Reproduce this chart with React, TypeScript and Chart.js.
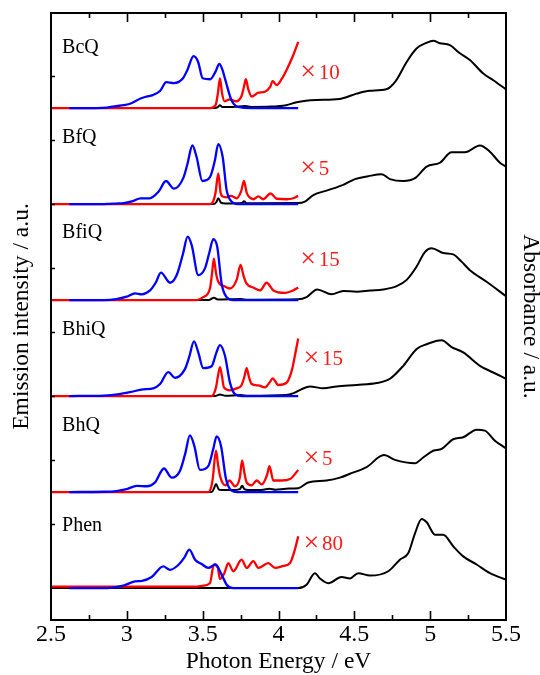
import React, { useEffect, useRef } from 'react';
import { Chart, registerables } from 'chart.js';

Chart.register(...registerables);

type P = [number, number][];

// ---- panel meta ----
const panelNames = ['BcQ', 'BfQ', 'BfiQ', 'BhiQ', 'BhQ', 'Phen'];
const panelFactors = ['10', '5', '15', '15', '5', '80'];
const panelOffsets = [5.333, 4.333, 3.333, 2.333, 1.333, 0.333];
const xTickLabels = ['2.5', '3', '3.5', '4', '4.5', '5', '5.5'];

// ---- BcQ ----
const BcQ_em: P = [[2.62,0],[2.80,0],[2.87,0.005],[2.93,0.02],[2.98,0.03],[3.03,0.05],[3.09,0.10],[3.13,0.12],[3.17,0.135],[3.22,0.18],[3.26,0.27],[3.31,0.26],[3.37,0.31],[3.40,0.40],[3.44,0.54],[3.47,0.48],[3.50,0.31],[3.55,0.30],[3.585,0.38],[3.61,0.46],[3.63,0.40],[3.65,0.29],[3.69,0.08],[3.72,0.02],[3.76,0.005],[3.85,0],[4.13,0]];
const BcQ_absX: P = [[2.5,0],[3.55,0],[3.585,0.03],[3.60,0.15],[3.614,0.31],[3.628,0.15],[3.645,0.07],[3.68,0.09],[3.72,0.07],[3.755,0.12],[3.772,0.22],[3.785,0.30],[3.80,0.20],[3.823,0.12],[3.867,0.16],[3.91,0.17],[3.945,0.22],[3.961,0.28],[3.988,0.24],[4.02,0.30],[4.054,0.40],[4.097,0.55],[4.13,0.69]];
const BcQ_abs: P = [[2.5,0],[3.58,0],[3.60,0.01],[3.614,0.03],[3.63,0.01],[3.70,0.01],[3.78,0.02],[3.82,0.012],[3.95,0.015],[4.05,0.03],[4.12,0.06],[4.18,0.075],[4.25,0.083],[4.40,0.094],[4.515,0.15],[4.60,0.18],[4.71,0.195],[4.77,0.275],[4.845,0.48],[4.91,0.62],[4.977,0.68],[5.02,0.70],[5.064,0.675],[5.13,0.655],[5.196,0.57],[5.262,0.50],[5.35,0.36],[5.416,0.29],[5.5,0.195]];

// ---- BfQ ----
const BfQ_em: P = [[2.62,0],[2.85,0],[2.93,0.005],[2.98,0.01],[3.04,0.03],[3.09,0.06],[3.15,0.06],[3.21,0.13],[3.258,0.24],[3.311,0.16],[3.372,0.27],[3.40,0.42],[3.432,0.61],[3.46,0.49],[3.498,0.24],[3.548,0.28],[3.58,0.45],[3.603,0.625],[3.632,0.49],[3.658,0.145],[3.691,0.025],[3.73,0],[4.13,0]];
const BfQ_absX: P = [[2.5,0],[3.548,0],[3.57,0.03],[3.585,0.12],[3.603,0.32],[3.618,0.12],[3.63,0.08],[3.658,0.07],[3.686,0.085],[3.724,0.06],[3.755,0.14],[3.772,0.24],[3.79,0.12],[3.801,0.085],[3.834,0.05],[3.867,0.08],[3.90,0.05],[3.948,0.11],[3.988,0.055],[4.054,0.05],[4.097,0.06],[4.13,0.085]];
const BfQ_abs: P = [[2.5,0],[3.57,0],[3.59,0.02],[3.603,0.06],[3.62,0.015],[3.65,0.005],[3.76,0.01],[3.772,0.03],[3.79,0.008],[4.13,0.01],[4.174,0.025],[4.23,0.094],[4.317,0.14],[4.427,0.20],[4.504,0.26],[4.592,0.29],[4.68,0.31],[4.735,0.26],[4.823,0.24],[4.90,0.27],[4.977,0.39],[5.064,0.43],[5.141,0.54],[5.229,0.54],[5.328,0.61],[5.394,0.545],[5.46,0.43],[5.5,0.39]];

// ---- BfiQ ----
const BfiQ_em: P = [[2.62,0],[2.85,0],[2.93,0.01],[2.999,0.035],[3.054,0.07],[3.098,0.06],[3.153,0.10],[3.19,0.18],[3.225,0.285],[3.285,0.18],[3.329,0.26],[3.37,0.48],[3.401,0.66],[3.428,0.57],[3.471,0.26],[3.515,0.33],[3.545,0.50],[3.57,0.635],[3.596,0.555],[3.625,0.17],[3.658,0.03],[3.70,0],[4.13,0]];
const BfiQ_absX: P = [[2.5,0],[3.46,0],[3.504,0.03],[3.548,0.12],[3.562,0.28],[3.574,0.43],[3.588,0.28],[3.603,0.19],[3.647,0.14],[3.68,0.12],[3.724,0.21],[3.75,0.365],[3.77,0.25],[3.79,0.17],[3.834,0.13],[3.878,0.10],[3.922,0.18],[3.966,0.10],[4.043,0.075],[4.097,0.10],[4.13,0.13]];
const BfiQ_abs: P = [[2.5,0],[3.54,0],[3.574,0.025],[3.60,0.005],[3.75,0.01],[3.80,0.003],[4.13,0.007],[4.185,0.03],[4.255,0.11],[4.35,0.06],[4.427,0.094],[4.515,0.087],[4.603,0.10],[4.69,0.11],[4.779,0.145],[4.845,0.21],[4.911,0.35],[4.965,0.50],[5.01,0.54],[5.086,0.49],[5.152,0.475],[5.207,0.40],[5.262,0.31],[5.372,0.19],[5.5,0.04]];

// ---- BhiQ ----
const BhiQ_em: P = [[2.62,0],[2.85,0.005],[2.95,0.02],[3.02,0.04],[3.108,0.07],[3.174,0.08],[3.219,0.125],[3.273,0.25],[3.317,0.19],[3.383,0.28],[3.41,0.40],[3.443,0.57],[3.471,0.455],[3.504,0.29],[3.559,0.31],[3.59,0.45],[3.614,0.53],[3.647,0.42],[3.68,0.14],[3.713,0.02],[3.76,0],[4.13,0]];
const BhiQ_absX: P = [[2.5,0],[3.559,0],[3.588,0.09],[3.60,0.2],[3.614,0.30],[3.628,0.2],[3.64,0.09],[3.68,0.06],[3.724,0.08],[3.755,0.11],[3.775,0.2],[3.79,0.29],[3.805,0.2],[3.823,0.125],[3.867,0.11],[3.911,0.09],[3.945,0.15],[3.961,0.185],[3.999,0.115],[4.054,0.14],[4.09,0.28],[4.108,0.42],[4.13,0.60]];
const BhiQ_abs: P = [[2.5,0],[3.58,0],[3.614,0.015],[3.65,0.003],[3.75,0.01],[3.80,0.003],[4.05,0.01],[4.10,0.03],[4.15,0.07],[4.207,0.10],[4.295,0.08],[4.383,0.10],[4.515,0.115],[4.647,0.135],[4.735,0.18],[4.823,0.315],[4.911,0.49],[4.977,0.54],[5.076,0.58],[5.141,0.51],[5.218,0.455],[5.328,0.315],[5.416,0.245],[5.5,0.18]];

// ---- BhQ ----
const BhQ_em: P = [[2.62,0],[2.85,0.003],[2.93,0.01],[2.999,0.03],[3.065,0.065],[3.131,0.06],[3.186,0.10],[3.245,0.245],[3.296,0.15],[3.35,0.22],[3.385,0.40],[3.416,0.59],[3.445,0.48],[3.482,0.23],[3.537,0.27],[3.57,0.45],[3.592,0.58],[3.621,0.48],[3.654,0.135],[3.69,0.015],[3.73,0],[4.13,0]];
const BhQ_absX: P = [[2.5,0],[3.537,0],[3.556,0.05],[3.566,0.135],[3.588,0.43],[3.60,0.3],[3.614,0.17],[3.65,0.07],[3.676,0.12],[3.713,0.06],[3.745,0.15],[3.76,0.33],[3.775,0.2],[3.79,0.10],[3.823,0.07],[3.856,0.12],[3.89,0.08],[3.925,0.18],[3.94,0.27],[3.966,0.12],[4.021,0.12],[4.076,0.135],[4.13,0.23]];
const BhQ_abs: P = [[2.5,0],[3.56,0],[3.575,0.04],[3.588,0.083],[3.605,0.03],[3.62,0.02],[3.70,0.02],[3.745,0.03],[3.76,0.065],[3.775,0.03],[3.80,0.02],[3.90,0.025],[3.94,0.035],[3.98,0.025],[4.05,0.035],[4.13,0.04],[4.196,0.10],[4.317,0.12],[4.405,0.15],[4.471,0.19],[4.581,0.26],[4.695,0.385],[4.768,0.335],[4.90,0.30],[4.954,0.36],[5.02,0.43],[5.076,0.45],[5.152,0.55],[5.218,0.57],[5.306,0.65],[5.361,0.64],[5.427,0.535],[5.5,0.455]];

// ---- Phen ----
const Phen_em: P = [[2.62,0],[2.87,0],[2.977,0.025],[3.054,0.07],[3.10,0.075],[3.164,0.115],[3.24,0.225],[3.285,0.19],[3.339,0.24],[3.38,0.32],[3.412,0.40],[3.45,0.295],[3.493,0.25],[3.537,0.21],[3.585,0.245],[3.625,0.14],[3.658,0.035],[3.70,0],[4.13,0]];
const Phen_absX: P = [[2.5,0.015],[3.45,0.015],[3.504,0.025],[3.548,0.05],[3.574,0.245],[3.60,0.21],[3.614,0.095],[3.643,0.155],[3.669,0.26],[3.702,0.175],[3.757,0.295],[3.79,0.21],[3.834,0.28],[3.867,0.21],[3.933,0.26],[3.977,0.21],[4.032,0.23],[4.076,0.26],[4.108,0.40],[4.13,0.54]];
const Phen_abs: P = [[2.5,0],[4.13,0],[4.185,0.035],[4.24,0.155],[4.273,0.10],[4.328,0.05],[4.416,0.115],[4.471,0.10],[4.526,0.155],[4.603,0.13],[4.724,0.175],[4.80,0.295],[4.856,0.365],[4.90,0.57],[4.944,0.72],[4.977,0.685],[5.032,0.555],[5.086,0.555],[5.152,0.435],[5.218,0.33],[5.306,0.245],[5.394,0.155],[5.5,0.087]];

const emission = [BcQ_em, BfQ_em, BfiQ_em, BhiQ_em, BhQ_em, Phen_em];
const absorptionScaled = [BcQ_absX, BfQ_absX, BfiQ_absX, BhiQ_absX, BhQ_absX, Phen_absX];
const absorption = [BcQ_abs, BfQ_abs, BfiQ_abs, BhiQ_abs, BhQ_abs, Phen_abs];

// label anchors (data units relative to each panel baseline)
const nameX = 2.573;
const nameDy = [0.57, 0.64, 0.65, 0.64, 0.64, 0.59];
const factorX = [4.153, 4.153, 4.153, 4.174, 4.174, 4.174];
const factorDy = [0.30, 0.30, 0.35, 0.32, 0.28, 0.40];

const FONT = "'Liberation Serif', 'Times New Roman', serif";

export default function App() {
  const ref = useRef<HTMLCanvasElement | null>(null);

  useEffect(() => {
    if (!ref.current) return;
    const shift = (pts: P, off: number) => pts.map(([x, y]) => ({ x, y: y + off }));
    const datasets: any[] = [];
    panelNames.forEach((_, i) => {
      datasets.push({
        data: shift(absorption[i], panelOffsets[i]),
        borderColor: '#000000', borderWidth: 2, pointRadius: 0,
        cubicInterpolationMode: 'monotone', fill: false, order: 3,
      });
      datasets.push({
        data: shift(absorptionScaled[i], panelOffsets[i]),
        borderColor: '#ff0000', borderWidth: 2.3, pointRadius: 0,
        cubicInterpolationMode: 'monotone', fill: false, order: 2,
      });
      datasets.push({
        data: shift(emission[i], panelOffsets[i]),
        borderColor: '#0000ff', borderWidth: 2.3, pointRadius: 0,
        cubicInterpolationMode: 'monotone', fill: false, order: 1,
      });
    });

    const framePlugin = {
      id: 'framePlugin',
      afterDatasetsDraw(chart: any) {
        const { ctx, chartArea, scales } = chart;
        const { left, right, top, bottom } = chartArea;
        const xs = scales.x;
        const ys = scales.y;
        ctx.save();
        ctx.strokeStyle = '#000';
        ctx.lineWidth = 2;
        ctx.strokeRect(left, top, right - left, bottom - top);
        ctx.lineWidth = 1.6;
        ctx.beginPath();
        for (let k = 1; k < 12; k++) {
          const v = 2.5 + k * 0.25;
          const px = Math.round(xs.getPixelForValue(v)) + 0.5;
          const len = k % 2 === 0 ? 9 : 5;
          ctx.moveTo(px, bottom);
          ctx.lineTo(px, bottom - len);
          ctx.moveTo(px, top);
          ctx.lineTo(px, top + len);
        }
        for (let k = 1; k < 10; k++) {
          const v = 1 / 3 + (2 * k) / 3;
          if (v >= ys.max) break;
          const py = Math.round(ys.getPixelForValue(v)) + 0.5;
          ctx.moveTo(left, py);
          ctx.lineTo(left + 4, py);
        }
        ctx.stroke();

        // panel labels
        panelNames.forEach((name, i) => {
          ctx.fillStyle = '#000';
          ctx.font = `20px ${FONT}`;
          ctx.textAlign = 'left';
          ctx.textBaseline = 'alphabetic';
          ctx.fillText(name, xs.getPixelForValue(nameX), ys.getPixelForValue(panelOffsets[i] + nameDy[i]));
          const fx = xs.getPixelForValue(factorX[i]);
          const fy = ys.getPixelForValue(panelOffsets[i] + factorDy[i]);
          ctx.fillStyle = '#ff1a1a';
          ctx.font = `300 28px ${FONT}`;
          ctx.fillText('×', fx - 1.5, fy + 1);
          ctx.font = `21px ${FONT}`;
          ctx.fillText(panelFactors[i], fx + 17, fy);
        });
        ctx.restore();
      },
    };

    const chart = new Chart(ref.current, {
      type: 'line',
      data: { datasets },
      options: {
        animation: false,
        responsive: false,
        devicePixelRatio: 1,
        events: [],
        layout: { padding: { top: 13, left: 0, right: 0, bottom: 0 } },
        plugins: { legend: { display: false }, tooltip: { enabled: false } },
        scales: {
          x: {
            type: 'linear', min: 2.5, max: 5.5,
            ticks: {
              stepSize: 0.5, color: '#000', padding: 0, maxRotation: 0, autoSkip: false,
              font: { family: FONT, size: 24 },
              callback: (v: any, idx: number) => xTickLabels[idx] ?? String(v),
            },
            grid: { display: false, drawTicks: false },
            border: { display: false },
            title: {
              display: true, text: 'Photon Energy / eV', color: '#000',
              font: { family: FONT, size: 23.5, lineHeight: 1 }, padding: { top: 0, bottom: 1.5 },
            },
            afterFit: (s: any) => { s.height = 55; },
          },
          y: {
            type: 'linear', position: 'left', min: 0, max: 6.323,
            ticks: { display: false },
            grid: { display: false, drawTicks: false },
            border: { display: false },
            title: {
              display: true, text: 'Emission intensity / a.u.', color: '#000',
              font: { family: FONT, size: 23.5, lineHeight: 1 }, padding: { top: 10.5, bottom: 0 },
            },
            afterFit: (s: any) => { s.width = 51; },
          },
          y2: {
            type: 'linear', position: 'right', min: 0, max: 1, display: true,
            ticks: { display: false },
            grid: { display: false, drawTicks: false },
            border: { display: false },
            title: {
              display: true, text: 'Absorbance / a.u.', color: '#000',
              font: { family: FONT, size: 23.5, lineHeight: 1 }, padding: { top: -1.5, bottom: 0 },
            },
            afterFit: (s: any) => { s.width = 34; },
          },
        },
      } as any,
      plugins: [framePlugin],
    });
    return () => chart.destroy();
  }, []);

  return (
    <div style={{ position: 'absolute', left: 0, top: 0, width: 540, height: 675, background: '#fff' }}>
      <canvas ref={ref} width={540} height={675} style={{ display: 'block' }} />
    </div>
  );
}
